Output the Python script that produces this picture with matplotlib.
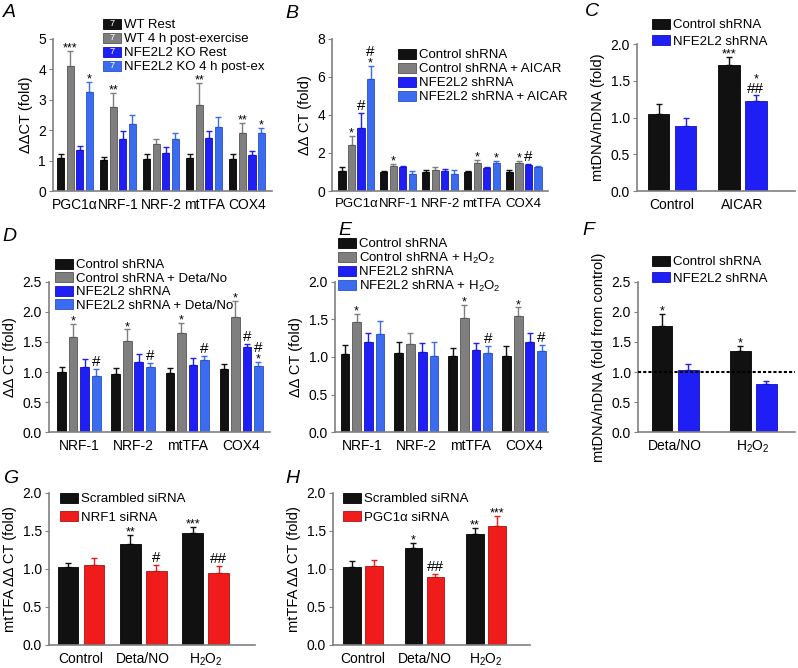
import numpy as np
import matplotlib
matplotlib.use('Agg')
import matplotlib.pyplot as plt
from matplotlib.patches import Rectangle, Patch
from matplotlib.text import Text
from matplotlib.legend_handler import HandlerPatch

plt.rcParams['font.family'] = ['Liberation Sans', 'DejaVu Sans']
plt.rcParams['mathtext.fontset'] = 'custom'
plt.rcParams['mathtext.rm'] = 'Liberation Sans'
plt.rcParams['mathtext.it'] = 'Liberation Sans:italic'

# ---- data ----
genes5 = ['PGC1\u03b1', 'NRF-1', 'NRF-2', 'mtTFA', 'COX4']
genes4 = ['NRF-1', 'NRF-2', 'mtTFA', 'COX4']

# A
a_labels = ['WT Rest', 'WT 4 h post-exercise', 'NFE2L2 KO Rest', 'NFE2L2 KO 4 h post-ex']
a_wt_rest = [1.07, 1.02, 1.05, 1.07, 1.05]
a_wt_rest_err = [0.15, 0.10, 0.16, 0.15, 0.16]
a_wt_post = [4.10, 2.76, 1.55, 2.82, 1.92]
a_wt_post_err = [0.50, 0.48, 0.16, 0.74, 0.32]
a_ko_rest = [1.35, 1.71, 1.25, 1.75, 1.18]
a_ko_rest_err = [0.14, 0.25, 0.20, 0.24, 0.12]
a_ko_post = [3.25, 2.20, 1.71, 2.11, 1.90]
a_ko_post_err = [0.35, 0.30, 0.21, 0.34, 0.17]
a_wt_post_sig = ['***', '**', '', '**', '**']
a_ko_post_sig = ['*', '', '', '', '*']

# B
b_labels = ['Control shRNA', 'Control shRNA + AICAR', 'NFE2L2 shRNA', 'NFE2L2 shRNA + AICAR']
b_ctrl = [1.07, 1.00, 0.98, 1.00, 1.00]
b_ctrl_err = [0.20, 0.05, 0.10, 0.05, 0.08]
b_ctrl_aicar = [2.43, 1.32, 1.12, 1.50, 1.47]
b_ctrl_aicar_err = [0.47, 0.10, 0.13, 0.15, 0.11]
b_nfe = [3.30, 1.25, 1.05, 1.20, 1.35]
b_nfe_err = [0.80, 0.07, 0.10, 0.08, 0.07]
b_nfe_aicar = [5.90, 0.92, 0.92, 1.45, 1.25]
b_nfe_aicar_err = [0.70, 0.13, 0.16, 0.15, 0.07]
b_ctrl_aicar_sig = ['*', '*', '', '*', '*']
b_nfe_sig = ['#', '', '', '', '#']
b_nfe_aicar_sig = ['#\n*', '', '', '*', '']

# C
c_groups = ['Control', 'AICAR']
c_labels = ['Control shRNA', 'NFE2L2 shRNA']
c_ctrl = [1.05, 1.71]
c_ctrl_err = [0.14, 0.11]
c_nfe = [0.88, 1.22]
c_nfe_err = [0.11, 0.08]
c_ctrl_sig = ['', '***']
c_nfe_sig = ['', '*\n##']

# D
d_labels = ['Control shRNA', 'Control shRNA + Deta/No', 'NFE2L2 shRNA', 'NFE2L2 shRNA + Deta/No']
d_ctrl = [1.00, 0.97, 0.98, 1.05]
d_ctrl_err = [0.08, 0.10, 0.09, 0.09]
d_ctrl_deta = [1.59, 1.52, 1.65, 1.92]
d_ctrl_deta_err = [0.21, 0.19, 0.17, 0.27]
d_nfe = [1.08, 1.17, 1.12, 1.41]
d_nfe_err = [0.14, 0.13, 0.11, 0.06]
d_nfe_deta = [0.94, 1.09, 1.20, 1.10]
d_nfe_deta_err = [0.11, 0.06, 0.07, 0.07]
d_ctrl_deta_sig = ['*', '*', '*', '*']
d_nfe_sig = ['', '', '', '#']
d_nfe_deta_sig = ['#', '#', '#', '#\n*']

# E
e_labels = ['Control shRNA', 'Control shRNA + H$_2$O$_2$', 'NFE2L2 shRNA', 'NFE2L2 shRNA + H$_2$O$_2$']
e_ctrl = [1.04, 1.06, 1.02, 1.02]
e_ctrl_err = [0.12, 0.14, 0.10, 0.12]
e_ctrl_h2o2 = [1.47, 1.17, 1.52, 1.55]
e_ctrl_h2o2_err = [0.10, 0.15, 0.17, 0.11]
e_nfe = [1.20, 1.07, 1.09, 1.20]
e_nfe_err = [0.12, 0.11, 0.09, 0.12]
e_nfe_h2o2 = [1.30, 1.02, 1.05, 1.08]
e_nfe_h2o2_err = [0.18, 0.18, 0.10, 0.08]
e_ctrl_h2o2_sig = ['*', '', '*', '*']
e_nfe_h2o2_sig = ['', '', '#', '#']

# F
f_groups = ['Deta/NO', 'H$_2$O$_2$']
f_labels = ['Control shRNA', 'NFE2L2 shRNA']
f_ctrl = [1.77, 1.35]
f_ctrl_err = [0.20, 0.09]
f_nfe = [1.03, 0.80]
f_nfe_err = [0.10, 0.05]
f_ctrl_sig = ['*', '*']
f_nfe_sig = ['', '']

# G
gh_groups = ['Control', 'Deta/NO', 'H$_2$O$_2$']
g_labels = ['Scrambled siRNA', 'NRF1 siRNA']
g_scr = [1.03, 1.33, 1.48]
g_scr_err = [0.05, 0.12, 0.07]
g_nrf1 = [1.05, 0.98, 0.95]
g_nrf1_err = [0.10, 0.07, 0.09]
g_scr_sig = ['', '**', '***']
g_nrf1_sig = ['', '#', '##']

# H
h_labels = ['Scrambled siRNA', 'PGC1\u03b1 siRNA']
h_scr = [1.02, 1.28, 1.46]
h_scr_err = [0.08, 0.06, 0.08]
h_pgc = [1.04, 0.90, 1.57]
h_pgc_err = [0.08, 0.04, 0.13]
h_scr_sig = ['', '*', '**']
h_pgc_sig = ['', '##', '***']

# ---- style ----
BLACK = '#111111'
GRAY = '#7f7f7f'
BLUE = '#1f1ff5'
LBLUE = '#3b6cf0'
RED = '#f01c1c'
EDGES = {BLACK: '#000000', GRAY: '#555555', BLUE: '#1010c0', LBLUE: '#2a50c0', RED: '#b01010'}
SPINE = '#808080'

W, H = 798, 668
fig = plt.figure(figsize=(W / 100, H / 100), dpi=100)


def make_ax(left, top, right, bottom, xfs=10):
    ax = fig.add_axes([left / W, 1 - bottom / H, (right - left) / W, (bottom - top) / H])
    for s in ['top', 'right']:
        ax.spines[s].set_visible(False)
    for s in ['left', 'bottom']:
        ax.spines[s].set_color(SPINE)
        ax.spines[s].set_linewidth(1.2)
    ax.tick_params(axis='y', labelsize=10, length=3, color=SPINE, pad=2)
    ax.tick_params(axis='x', labelsize=xfs, length=0, pad=5)
    return ax


def draw(ax, x, vals, errs, color, sig=None, width=0.75):
    x = np.asarray(x, dtype=float)
    ax.bar(x, vals, width, color=color, edgecolor=EDGES[color], linewidth=0.6, zorder=2)
    ax.errorbar(x, vals, yerr=[np.zeros(len(vals)), errs], fmt='none', ecolor=color,
                elinewidth=1, capsize=2, capthick=1, zorder=1)
    if sig is None:
        return
    for xi, v, e, s in zip(x, vals, errs, sig):
        if not s:
            continue
        cur = 2.0  # points above the cap where the next glyph starts
        for line in reversed(s.split('\n')):
            if '#' in line:
                fs, off, h = 11, cur, 7.9
            else:
                fs, off, h = 9, cur - 2.4, 3.4
            ax.annotate(line, (xi, v + e), xytext=(0, off), textcoords='offset points',
                        ha='center', va='baseline', fontsize=fs, annotation_clip=False)
            cur += h + 1.8


class NHandler(HandlerPatch):
    def create_artists(self, legend, orig_handle, xdescent, ydescent, width, height, fontsize, trans):
        p = Rectangle((-xdescent, -ydescent), width, height,
                      facecolor=orig_handle.get_facecolor(),
                      edgecolor=orig_handle.get_edgecolor(), linewidth=0.6, transform=trans)
        t = Text(-xdescent + width / 2, -ydescent + height / 2, '7', color='white',
                 ha='center', va='center', fontsize=fontsize * 0.7, transform=trans)
        return [p, t]


def legend(ax, labels, colors, x, y, spacing=0.1, handler=None, fs=9.5):
    handles = [Patch(facecolor=c, edgecolor=EDGES[c], linewidth=0.6) for c in colors]
    kw = {}
    if handler is not None:
        kw['handler_map'] = {Patch: handler}
    leg = ax.legend(handles, labels, loc='upper left', bbox_to_anchor=(x / W, 1 - y / H),
                    bbox_transform=fig.transFigure, frameon=False, borderpad=0, borderaxespad=0,
                    handlelength=1.4, handleheight=0.75, handletextpad=0.2, labelspacing=spacing,
                    fontsize=fs, **kw)
    leg.set_zorder(1)


def letter(x, y, s):
    fig.text(x / W, 1 - y / H, s, fontsize=14, style='italic', ha='left', va='top')


# ---- A ----
ax = make_ax(53, 39, 272, 191)
gp = 4.5
base = np.arange(5) * gp
draw(ax, base, a_wt_rest, a_wt_rest_err, BLACK)
draw(ax, base + 1, a_wt_post, a_wt_post_err, GRAY, a_wt_post_sig)
draw(ax, base + 2, a_ko_rest, a_ko_rest_err, BLUE)
draw(ax, base + 3, a_ko_post, a_ko_post_err, LBLUE, a_ko_post_sig)
ax.set_xlim(-0.8, 4 * gp + 4.1)
ax.set_ylim(0, 5)
ax.set_yticks(range(0, 6))
ax.set_xticks(base + 1.5, genes5)
ax.set_ylabel('\u0394\u0394CT (fold)', fontsize=10.5, labelpad=4)
legend(ax, a_labels, [BLACK, GRAY, BLUE, LBLUE], 103, 19, spacing=0.12, handler=NHandler())
letter(3, 4, 'A')

# ---- B ----
ax = make_ax(332, 39, 548, 191, xfs=9.5)
gp = 4.4
base = np.arange(5) * gp
draw(ax, base, b_ctrl, b_ctrl_err, BLACK)
draw(ax, base + 1, b_ctrl_aicar, b_ctrl_aicar_err, GRAY, b_ctrl_aicar_sig)
draw(ax, base + 2, b_nfe, b_nfe_err, BLUE, b_nfe_sig)
draw(ax, base + 3, b_nfe_aicar, b_nfe_aicar_err, LBLUE, b_nfe_aicar_sig)
ax.set_xlim(-1.05, 4 * gp + 4.05)
ax.set_ylim(0, 8)
ax.set_yticks(range(0, 9, 2))
ax.set_xticks(base + 1.5, genes5)
ax.set_ylabel('\u0394\u0394 CT (fold)', fontsize=10.5, labelpad=4)
legend(ax, b_labels, [BLACK, GRAY, BLUE, LBLUE], 398, 49, spacing=0.12)
letter(285, 5, 'B')

# ---- C ----
ax = make_ax(637, 44, 795, 191)
base = np.array([0, 2.6])
draw(ax, base, c_ctrl, c_ctrl_err, BLACK, c_ctrl_sig, width=0.8)
draw(ax, base + 1, c_nfe, c_nfe_err, BLUE, c_nfe_sig, width=0.8)
ax.set_xlim(-0.8, 5.05)
ax.set_ylim(0, 2.0)
ax.set_yticks(np.arange(0, 2.01, 0.5))
ax.set_yticklabels(['0.0', '0.5', '1.0', '1.5', '2.0'])
ax.set_xticks(base + 0.5, c_groups)
ax.set_ylabel('mtDNA/nDNA (fold)', fontsize=10.5, labelpad=4)
legend(ax, c_labels, [BLACK, BLUE], 652, 19, spacing=0.3)
letter(585, 3, 'C')

# ---- D ----
ax = make_ax(49, 282, 270, 432)
gp = 4.7
base = np.arange(4) * gp
draw(ax, base, d_ctrl, d_ctrl_err, BLACK)
draw(ax, base + 1, d_ctrl_deta, d_ctrl_deta_err, GRAY, d_ctrl_deta_sig)
draw(ax, base + 2, d_nfe, d_nfe_err, BLUE, d_nfe_sig)
draw(ax, base + 3, d_nfe_deta, d_nfe_deta_err, LBLUE, d_nfe_deta_sig)
ax.set_xlim(-1.1, 3 * gp + 4.0)
ax.set_ylim(0, 2.5)
ax.set_yticks(np.arange(0, 2.51, 0.5))
ax.set_yticklabels(['0.0', '0.5', '1.0', '1.5', '2.0', '2.5'])
ax.set_xticks(base + 1.5, genes4)
ax.set_ylabel('\u0394\u0394 CT (fold)', fontsize=10.5, labelpad=4)
legend(ax, d_labels, [BLACK, GRAY, BLUE, LBLUE], 55, 259, spacing=0.08)
letter(2, 228, 'D')

# ---- E ----
ax = make_ax(335, 282, 548, 432)
gp = 4.6
base = np.arange(4) * gp
draw(ax, base, e_ctrl, e_ctrl_err, BLACK)
draw(ax, base + 1, e_ctrl_h2o2, e_ctrl_h2o2_err, GRAY, e_ctrl_h2o2_sig)
draw(ax, base + 2, e_nfe, e_nfe_err, BLUE)
draw(ax, base + 3, e_nfe_h2o2, e_nfe_h2o2_err, LBLUE, e_nfe_h2o2_sig)
ax.set_xlim(-0.85, 3 * gp + 3.55)
ax.set_ylim(0, 2.0)
ax.set_yticks(np.arange(0, 2.01, 0.5))
ax.set_yticklabels(['0.0', '0.5', '1.0', '1.5', '2.0'])
ax.set_xticks(base + 1.5, genes4)
ax.set_ylabel('\u0394\u0394 CT (fold)', fontsize=10.5, labelpad=4)
legend(ax, e_labels, [BLACK, GRAY, BLUE, LBLUE], 338, 238, spacing=0.02)
letter(338, 222, 'E')

# ---- F ----
ax = make_ax(638, 282, 795, 432)
base = np.array([0, 3.0])
draw(ax, base, f_ctrl, f_ctrl_err, BLACK, f_ctrl_sig, width=0.8)
draw(ax, base + 1, f_nfe, f_nfe_err, BLUE, f_nfe_sig, width=0.8)
ax.axhline(1.0, color='black', linestyle=(0, (1.5, 1)), linewidth=1.5, zorder=3, clip_on=False)
ax.set_xlim(-0.92, 5.1)
ax.set_ylim(0, 2.5)
ax.set_yticks(np.arange(0, 2.51, 0.5))
ax.set_yticklabels(['0.0', '0.5', '1.0', '1.5', '2.0', '2.5'])
ax.set_xticks(base + 0.5, f_groups)
ax.set_ylabel('mtDNA/nDNA (fold from control)', fontsize=10.5, labelpad=4)
legend(ax, f_labels, [BLACK, BLUE], 652, 256, spacing=0.3)
letter(582, 222, 'F')

# ---- G ----
ax = make_ax(49, 493, 255, 645)
base = np.array([0, 2.4, 4.8])
draw(ax, base, g_scr, g_scr_err, BLACK, g_scr_sig, width=0.8)
draw(ax, base + 1, g_nrf1, g_nrf1_err, RED, g_nrf1_sig, width=0.8)
ax.set_xlim(-0.73, 7.2)
ax.set_ylim(0, 2.0)
ax.set_yticks(np.arange(0, 2.01, 0.5))
ax.set_yticklabels(['0.0', '0.5', '1.0', '1.5', '2.0'])
ax.set_xticks(base + 0.5, gh_groups)
ax.set_ylabel('mtTFA \u0394\u0394 CT (fold)', fontsize=10.5, labelpad=4)
legend(ax, g_labels, [BLACK, RED], 60, 493, spacing=0.45)
letter(3, 470, 'G')

# ---- H ----
ax = make_ax(333, 493, 530, 645)
base = np.array([0, 2.8, 5.6])
draw(ax, base, h_scr, h_scr_err, BLACK, h_scr_sig, width=0.8)
draw(ax, base + 1, h_pgc, h_pgc_err, RED, h_pgc_sig, width=0.8)
ax.set_xlim(-0.86, 8.1)
ax.set_ylim(0, 2.0)
ax.set_yticks(np.arange(0, 2.01, 0.5))
ax.set_yticklabels(['0.0', '0.5', '1.0', '1.5', '2.0'])
ax.set_xticks(base + 0.5, gh_groups)
ax.set_ylabel('mtTFA \u0394\u0394 CT (fold)', fontsize=10.5, labelpad=4)
legend(ax, h_labels, [BLACK, RED], 343, 493, spacing=0.45)
letter(285, 470, 'H')

fig.savefig('out.png', dpi=100)
